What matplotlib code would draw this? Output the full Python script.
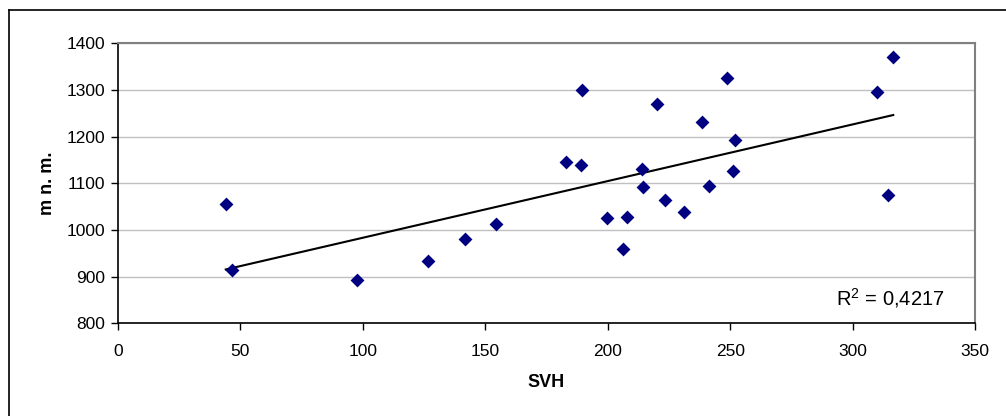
import numpy as np
import matplotlib
matplotlib.use("Agg")
import matplotlib.pyplot as plt
from matplotlib.lines import Line2D

# SVH vs. altitude (m n. m.)
svh = [44.0, 46.4, 97.6, 126.6, 141.6, 154.3, 183.1, 189.1, 189.6, 199.8,
       206.4, 207.8, 214.1, 214.4, 220.2, 223.3, 231.0, 238.6, 241.2, 248.8,
       251.9, 251.1, 309.8, 316.6, 314.3]
altitude = [1055, 915, 893, 934, 981, 1013, 1145, 1139, 1301, 1025,
            959, 1028, 1130, 1092, 1271, 1065, 1038, 1231, 1094, 1325,
            1192, 1126, 1296, 1370, 1076]

x_ticks = [0, 50, 100, 150, 200, 250, 300, 350]
y_ticks = [800, 900, 1000, 1100, 1200, 1300, 1400]
r2_label = "R$^2$ = 0,4217"

plt.rcParams['font.family'] = ['Liberation Sans', 'DejaVu Sans']
plt.rcParams['mathtext.fontset'] = 'custom'
plt.rcParams['mathtext.rm'] = 'Liberation Sans'

fig = plt.figure(figsize=(10.06, 4.16), dpi=100)
ax = fig.add_axes([0.1173, 0.2228, 0.8519, 0.6731])

ax.scatter(svh, altitude, marker='D', s=50, color='#000080', zorder=3, linewidths=0)

# linear trendline over the data range
x = np.array(svh)
slope, intercept = np.polyfit(x, np.array(altitude), 1)
xl = np.array([x.min(), x.max()])
ax.plot(xl, slope * xl + intercept, color='black', linewidth=1.5, zorder=2)

ax.set_xlim(0, 350)
ax.set_ylim(800, 1400)
ax.set_xticks(x_ticks)
ax.set_yticks(y_ticks)
ax.tick_params(axis='both', direction='out', length=5, width=1, labelsize=12.5, colors='black')
ax.tick_params(axis='x', pad=10)
ax.tick_params(axis='y', pad=4)
ax.yaxis.grid(True, color='#c0c0c0', linewidth=1)
ax.set_axisbelow(True)

for side in ['left', 'bottom']:
    ax.spines[side].set_color('black')
    ax.spines[side].set_linewidth(1.2)
for side in ['top', 'right']:
    ax.spines[side].set_color('#808080')
    ax.spines[side].set_linewidth(1.5)

ax.set_xlabel("SVH", fontsize=13, fontweight='bold', labelpad=11)
ax.set_ylabel("m n. m.", fontsize=13, fontweight='bold', labelpad=8)

ax.text(0.964, 0.09, r2_label, transform=ax.transAxes, fontsize=14.5,
        ha='right', va='center')

# chart area border (cropped on right and bottom)
fig.add_artist(Line2D([9 / 1006, 9 / 1006], [0, 1 - 10 / 416], transform=fig.transFigure,
                      color='black', linewidth=1.2))
fig.add_artist(Line2D([9 / 1006, 1], [1 - 10 / 416, 1 - 10 / 416], transform=fig.transFigure,
                      color='black', linewidth=1.2))

fig.savefig("out.png", dpi=100)
